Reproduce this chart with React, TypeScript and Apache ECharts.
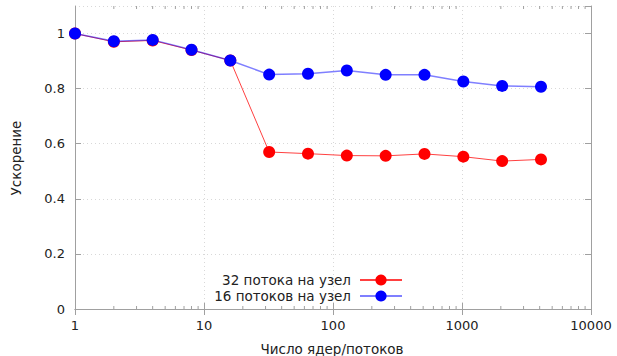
import React, { useEffect, useRef } from "react";
import * as echarts from "echarts";

const cores = [1, 2, 4, 8, 16, 32, 64, 128, 256, 512, 1024, 2048, 4096];
const speedup32 = [1.0, 0.97, 0.975, 0.94, 0.902, 0.570, 0.564, 0.557, 0.556, 0.563, 0.553, 0.537, 0.543];
const speedup16 = [1.0, 0.972, 0.977, 0.941, 0.902, 0.851, 0.854, 0.866, 0.850, 0.850, 0.826, 0.810, 0.807];
const seriesNames = ["32 потока на узел", "16 потоков на узел"];
const minorTickValues = [
  2, 3, 4, 5, 6, 7, 8, 9,
  20, 30, 40, 50, 60, 70, 80, 90,
  200, 300, 400, 500, 600, 700, 800, 900,
  2000, 3000, 4000, 5000, 6000, 7000, 8000, 9000,
];
const xTitle = "Число ядер/потоков";
const yTitle = "Ускорение";

const FONT = "DejaVu Sans";
const AXIS_COLOR = "#a0a0a0";
const TEXT_COLOR = "#222";

export default function App() {
  const ref = useRef<HTMLDivElement>(null);
  useEffect(() => {
    if (!ref.current) return;
    const chart = echarts.init(ref.current, null, { renderer: "svg" });
    const gridBox = { left: 75, right: 26, top: 6, bottom: 47 };
    chart.setOption({
      animation: false,
      backgroundColor: "#ffffff",
      textStyle: { fontFamily: FONT },
      grid: { ...gridBox, containLabel: false },
      legend: {
        data: seriesNames,
        orient: "vertical",
        align: "right",
        right: 214,
        top: 273,
        padding: 0,
        itemWidth: 42,
        itemHeight: 14,
        itemGap: 2,
        textStyle: { fontFamily: FONT, fontSize: 13.5, color: TEXT_COLOR, padding: [0, 4, 0, 0] },
      },
      xAxis: [
        {
          type: "log",
          logBase: 10,
          min: 1,
          max: 10000,
          position: "bottom",
          axisLine: { show: true, lineStyle: { color: AXIS_COLOR, width: 1 } },
          axisTick: { show: true, inside: true, length: 6, lineStyle: { color: AXIS_COLOR } },
          axisLabel: {
            fontFamily: FONT,
            fontSize: 13,
            color: TEXT_COLOR,
            margin: 10,
            formatter: (v: number) => String(Math.round(v)),
          },
          splitLine: { show: true, lineStyle: { color: "#d8d8d8", type: [1, 3], width: 1 } },
        },
        {
          type: "log",
          logBase: 10,
          min: 1,
          max: 10000,
          position: "top",
          axisLine: { show: true, lineStyle: { color: AXIS_COLOR, width: 1 } },
          axisTick: { show: true, inside: true, length: 6, lineStyle: { color: AXIS_COLOR } },
          axisLabel: { show: false },
          splitLine: { show: false },
        },
      ],
      yAxis: [
        {
          type: "value",
          min: 0,
          max: 1.1,
          interval: 0.2,
          position: "left",
          axisLine: { show: true, lineStyle: { color: AXIS_COLOR, width: 1 } },
          axisTick: { show: true, inside: true, length: 6, lineStyle: { color: AXIS_COLOR } },
          axisLabel: { fontFamily: FONT, fontSize: 13, color: TEXT_COLOR, margin: 10, showMaxLabel: false },
          splitLine: { show: true, lineStyle: { color: "#d8d8d8", type: [1, 3], width: 1 } },
        },
        {
          type: "value",
          min: 0,
          max: 1.1,
          interval: 0.2,
          position: "right",
          axisLine: { show: true, lineStyle: { color: AXIS_COLOR, width: 1 } },
          axisTick: { show: true, inside: true, length: 6, lineStyle: { color: AXIS_COLOR } },
          axisLabel: { show: false },
          splitLine: { show: false },
        },
      ],
      graphic: [
        {
          type: "text",
          x: 332,
          y: 349,
          style: {
            text: xTitle,
            fontFamily: FONT,
            fontSize: 13.5,
            fill: TEXT_COLOR,
            align: "center",
            verticalAlign: "middle",
          },
        },
        {
          type: "text",
          x: 16,
          y: 158,
          rotation: Math.PI / 2,
          style: {
            text: yTitle,
            fontFamily: FONT,
            fontSize: 13.5,
            fill: TEXT_COLOR,
            align: "center",
            verticalAlign: "middle",
          },
        },
      ],
      series: [
        {
          name: seriesNames[0],
          type: "line",
          data: cores.map((c, i) => [c, speedup32[i]]),
          symbol: "circle",
          symbolSize: 12,
          itemStyle: { color: "#ff0000" },
          lineStyle: { color: "#ff0000", width: 1, opacity: 0.75 },
          z: 3,
        },
        {
          name: seriesNames[1],
          type: "line",
          data: cores.map((c, i) => [c, speedup16[i]]),
          symbol: "circle",
          symbolSize: 12,
          itemStyle: { color: "#0000ff" },
          lineStyle: { color: "#0000ff", width: 1.5, opacity: 0.5 },
          z: 4,
        },
        {
          type: "custom",
          silent: true,
          clip: false,
          data: minorTickValues.map((v) => [v, 0]),
          encode: { x: 0, y: 1 },
          renderItem: (params: any, api: any) => {
            const p = api.coord([api.value(0), 0]);
            const cs = params.coordSys;
            const x = p[0];
            const top = cs.y;
            const bottom = cs.y + cs.height;
            const style = { stroke: AXIS_COLOR, lineWidth: 1 };
            return {
              type: "group",
              children: [
                { type: "line", shape: { x1: x, y1: bottom, x2: x, y2: bottom - 3 }, style },
                { type: "line", shape: { x1: x, y1: top, x2: x, y2: top + 3 }, style },
              ],
            };
          },
          z: 1,
        },
      ],
    });
    return () => chart.dispose();
  }, []);
  return (
    <div
      ref={ref}
      style={{ position: "absolute", left: 0, top: 0, width: 617, height: 356 }}
    />
  );
}
